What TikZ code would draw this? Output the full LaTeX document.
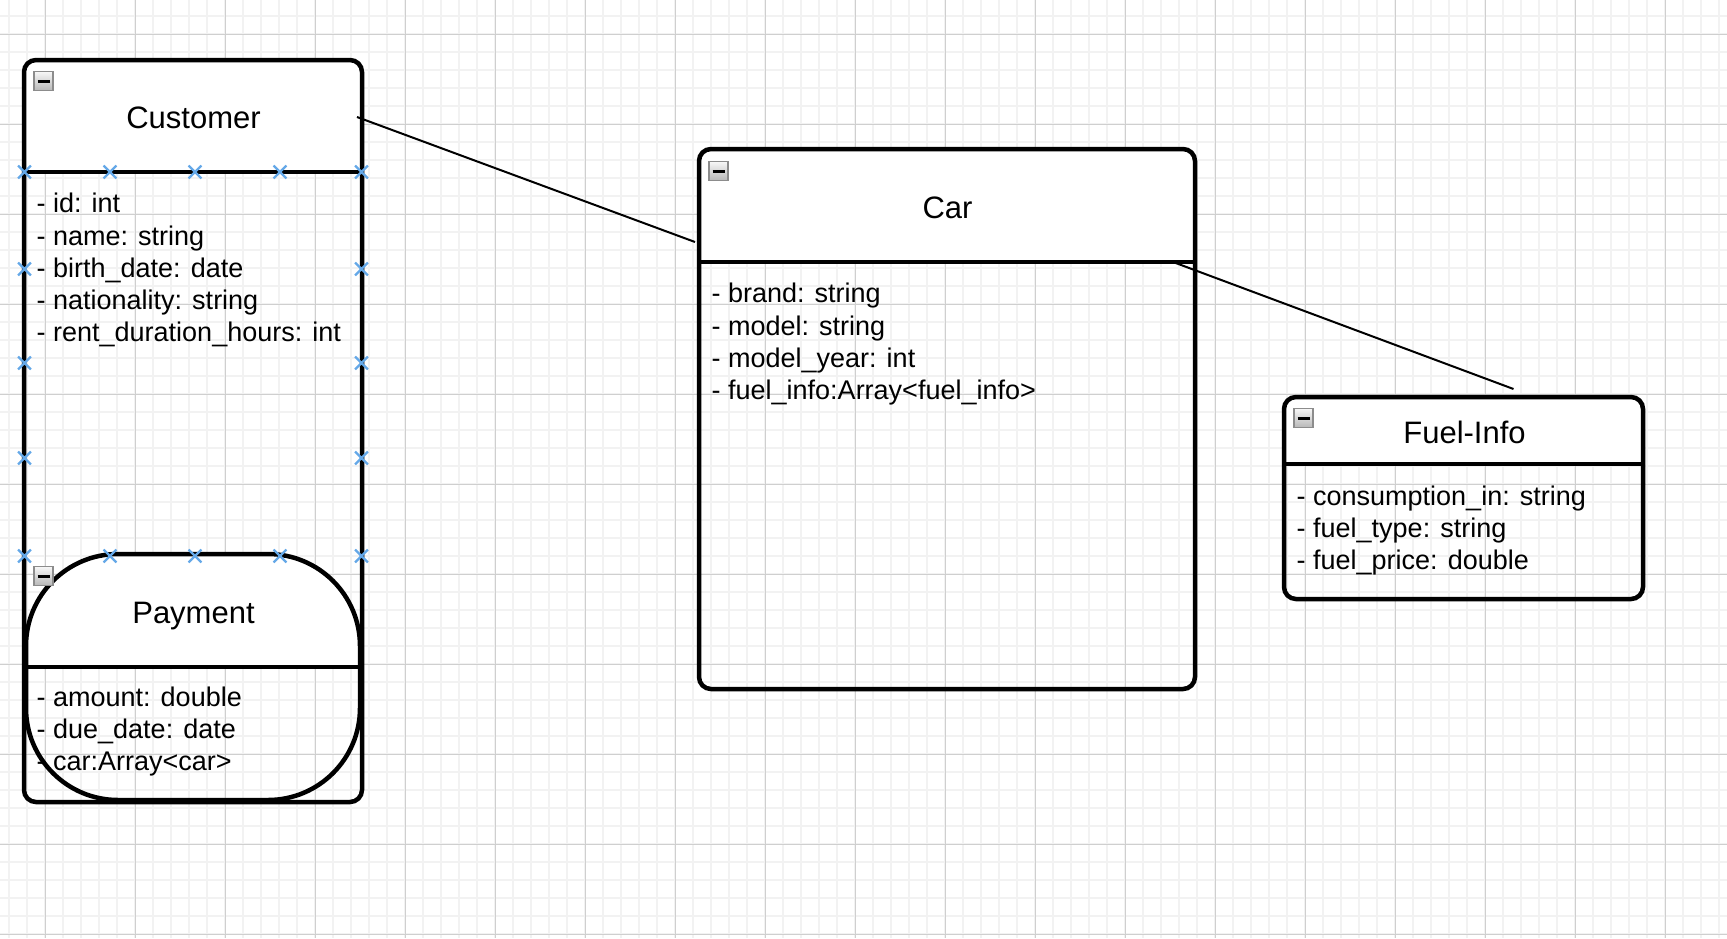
\documentclass[tikz,border=0pt]{standalone}
\usepackage{fontspec}
\setmainfont{Liberation Sans}
\usetikzlibrary{shapes.misc,positioning}
\definecolor{xblue}{RGB}{100,168,232}

\begin{document}
\begin{tikzpicture}[
    x=1pt,y=-1pt,
    minorline/.style={line width=1.5pt,draw=black!5},
    majorline/.style={line width=1pt,draw=black!19},
    classbox/.style={draw,line width=4.5pt,rounded corners=12pt,anchor=north west,inner sep=0pt,outer sep=0pt},
    divider/.style={line width=4.5pt},
    classtitle/.style={font=\fontsize{31pt}{37pt}\selectfont,anchor=base,inner sep=0pt},
    attr/.style={font=\fontsize{27pt}{32pt}\selectfont,anchor=base west,inner sep=0pt},
    minusbox/.style={draw=black!45,line width=1.5pt,top color=black!3,bottom color=black!28,minimum size=19pt,inner sep=0pt},
    link/.style={line width=2pt},
    xmark/.style={cross out,draw=xblue,line width=2.3pt,minimum size=10.5pt,inner sep=0pt}
  ]
  \useasboundingbox (0,0) rectangle (1727,938);
  \fill[white] (0,0) rectangle (1727,938);

  % grid
  \foreach \g in {9,27,...,1727} \draw[minorline] (\g,0) -- (\g,938);
  \foreach \g in {16,34,...,938} \draw[minorline] (0,\g) -- (1727,\g);
  \foreach \g in {45,135,...,1727} \draw[majorline] (\g,0) -- (\g,938);
  \foreach \g in {34,124,...,938} \draw[majorline] (0,\g) -- (1727,\g);

  % white title bands
  \foreach \xa/\ya/\xb/\yb/\yh/\r in {24/60/362/802/172/12, 699/149/1195/689/262/12,
      1284/397/1643/599/464/12, 26/554/360/800/667/92} {
    \begin{scope}
      \clip (\xa,\ya) rectangle (\xb,\yh);
      \fill[white,rounded corners=\r pt] (\xa,\ya) rectangle (\xb,\yb);
    \end{scope}
  }

  % classes
  \node[classbox,minimum width=338pt,minimum height=742pt] (customer) at (24,60) {};
  \node[classbox,minimum width=496pt,minimum height=540pt] (car) at (699,149) {};
  \node[classbox,minimum width=359pt,minimum height=202pt] (fuel) at (1284,397) {};
  \node[classbox,rounded corners=92pt,minimum width=334pt,minimum height=246pt] (payment) at (26,554) {};

  \draw[divider] ([yshift=-112pt]customer.north west) -- ([yshift=-112pt]customer.north east);
  \draw[divider] ([yshift=-113pt]car.north west) -- ([yshift=-113pt]car.north east);
  \draw[divider] ([yshift=-67pt]fuel.north west) -- ([yshift=-67pt]fuel.north east);
  \draw[divider] ([yshift=-113pt]payment.north west) -- ([yshift=-113pt]payment.north east);

  \node[classtitle] (customertitle) at (193.5,128) {Customer};
  \node[classtitle] (cartitle) at (947.5,218) {Car};
  \node[classtitle] (fueltitle) at (1464.5,443) {Fuel-Info};
  \node[classtitle] (paymenttitle) at (193.5,623) {Payment};

  \foreach \a [count=\i from 0] in {- id: int, - name: string, - birth\_date: date,
      - nationality: string, - rent\_duration\_hours: int}
    \node[attr] (customer-\i) at (36.5,212.7+32.3*\i) {\a};
  \foreach \a [count=\i from 0] in {- brand: string, - model: string, - model\_year: int,
      - fuel\_info:Array<fuel\_info>}
    \node[attr] (car-\i) at (711.5,302.7+32.3*\i) {\a};
  \foreach \a [count=\i from 0] in {- consumption\_in: string, - fuel\_type: string, - fuel\_price: double}
    \node[attr] (fuel-\i) at (1296.5,505.3+32.3*\i) {\a};
  \foreach \a [count=\i from 0] in {- amount: double, - due\_date: date, - car:Array<car>}
    \node[attr] (payment-\i) at (36.5,706+32*\i) {\a};

  % collapse buttons
  \node[minusbox] (customericon) at (43.5,81) {};
  \node[minusbox] (caricon) at (718.5,171) {};
  \node[minusbox] (fuelicon) at (1303.5,418) {};
  \node[minusbox] (paymenticon) at (43.5,576) {};
  \foreach \b in {customericon,caricon,fuelicon,paymenticon}
    \draw[line width=3pt,black] ([xshift=-6pt]\b.center) -- ([xshift=6pt]\b.center);

  % links
  \draw[link] ([shift={(-5pt,-57pt)}]customer.north east) -- ([shift={(-4pt,-93pt)}]car.north west);
  \draw[link] ([shift={(-22pt,-113pt)}]car.north east) -- ([shift={(50pt,8pt)}]fuel.north);

  % connection points
  \foreach \x [count=\i] in {24.5,110,195,280,361.5} {
    \node[xmark] (top-\i) at (\x,172) {};
    \node[xmark] (bottom-\i) at (\x,556) {};
  }
  \foreach \y [count=\i] in {269,363,458} {
    \node[xmark] (left-\i) at (24.5,\y) {};
    \node[xmark] (right-\i) at (361.5,\y) {};
  }
\end{tikzpicture}
\end{document}
